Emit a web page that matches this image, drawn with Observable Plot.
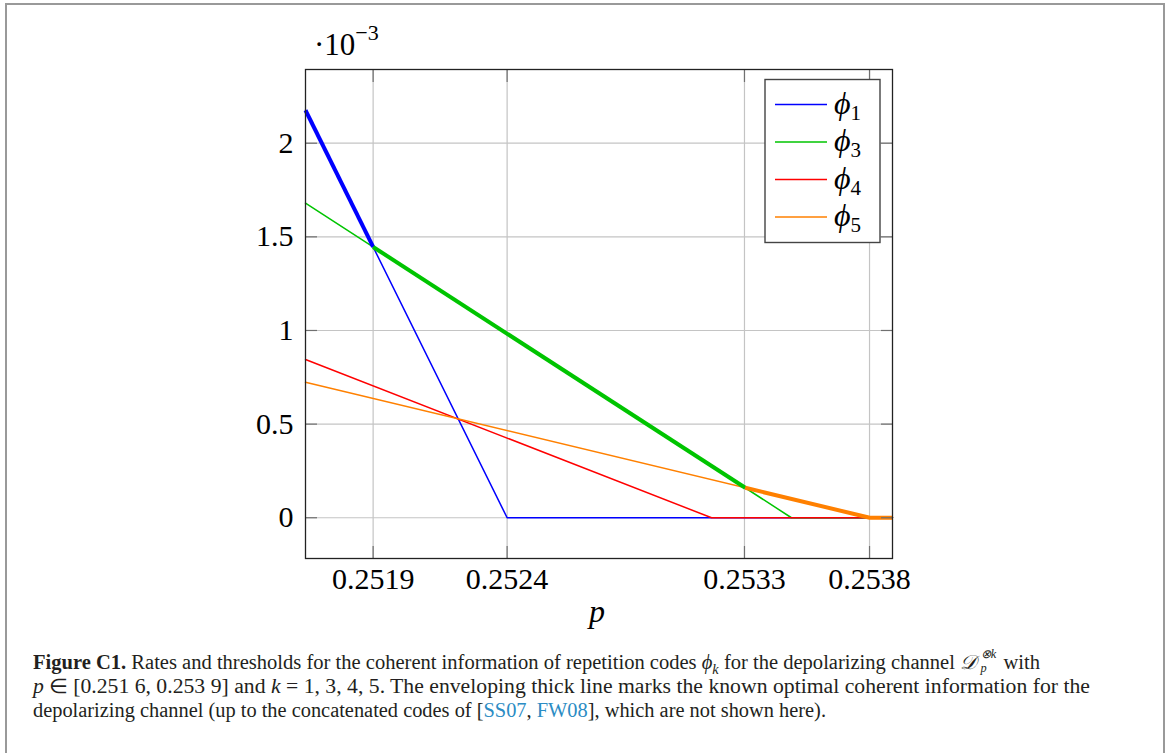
<!DOCTYPE html>
<html><head><meta charset="utf-8">
<script src="https://cdn.jsdelivr.net/npm/d3@7"></script>
<script src="https://cdn.jsdelivr.net/npm/@observablehq/plot@0.6"></script>
<style>
html,body{margin:0;padding:0;background:#fff;}
#page{position:relative;width:1168px;height:753px;overflow:hidden;background:#fff;}
#border{position:absolute;left:5px;top:3px;width:1156px;height:800px;border:2px solid #999;border-bottom:none;}
#chart{position:absolute;left:0;top:0;}
#caption{position:absolute;left:33px;top:650px;font-family:"Liberation Serif",serif;font-size:20px;line-height:24px;color:#231f20;}
.ln{white-space:nowrap;transform-origin:0 50%;height:24px;}
.lk{color:#2b8cc4;}
.m{font-style:italic;}
sub,sup{font-size:70%;line-height:0;}
.stack{display:inline-block;vertical-align:middle;font-size:12px;line-height:14px;font-style:italic;position:relative;top:-3px;margin-left:4px;margin-right:2px;}
.stack span{display:block;}
</style></head><body>
<div id="page"><div id="border"></div><div id="chart"></div>
<div id="caption">
<div class="ln"><b>Figure C1.</b> Rates and thresholds for the coherent information of repetition codes <span class="m">ϕ</span><sub class="m">k</sub> for the depolarizing channel <span class="m">𝒟</span><span class="stack"><span>⊗k</span><span>p</span></span> with</div>
<div class="ln"><span class="m">p</span> ∈ [0.251 6, 0.253 9] and <span class="m">k</span> = 1, 3, 4, 5. The enveloping thick line marks the known optimal coherent information for the</div>
<div class="ln">depolarizing channel (up to the concatenated codes of [<span class="lk">SS07</span>, <span class="lk">FW08</span>], which are not shown here).</div>
</div>
</div>
<script>
const seriesNames = ["ϕ1", "ϕ3", "ϕ4", "ϕ5"];
const seriesSubs = ["1", "3", "4", "5"];
const seriesColors = ["#0000ff", "#00c400", "#ff0000", "#ff8000"];
const phi1P = [0.2516, 0.25239, 0.2539];
const phi1R = [2.176, 0, 0];
const phi3P = [0.2516, 0.253504, 0.2539];
const phi3R = [1.680, 0, 0];
const phi4P = [0.2516, 0.253191, 0.2539];
const phi4R = [0.845, 0, 0];
const phi5P = [0.2516, 0.253811, 0.2539];
const phi5R = [0.724, 0, 0];
const envelopeP = [0.2516, 0.251865, 0.251865, 0.253323, 0.253323, 0.253811, 0.2539];
const envelopeR = [2.176, 1.446, 1.446, 0.160, 0.160, 0, 0];
const envelopeS = ["ϕ1", "ϕ1", "ϕ3", "ϕ3", "ϕ5", "ϕ5", "ϕ5"];
const xTicks = [0.251865, 0.25239, 0.25332, 0.25381];
const xTickLabels = ["0.2519", "0.2524", "0.2533", "0.2538"];
const yTicks = [0, 0.5, 1, 1.5, 2];
const yTickLabels = ["0", "0.5", "1", "1.5", "2"];
const xDomain = [0.2516, 0.2539];
const yDomain = [-0.2176, 2.3936];

const allP = [phi1P, phi3P, phi4P, phi5P];
const allR = [phi1R, phi3R, phi4R, phi5R];
const rows = [];
seriesNames.forEach((s, i) => allP[i].forEach((p, j) => rows.push({s, p, r: allR[i][j]})));
const envRows = envelopeP.map((p, i) => ({s: envelopeS[i], p, r: envelopeR[i], g: i < 2 ? 0 : i < 4 ? 1 : 2}));

const font = "'Liberation Serif', 'DejaVu Serif', serif";
const tickStroke = "#707070";
const chart = Plot.plot({
  width: 1168, height: 640,
  marginLeft: 305, marginRight: 276, marginTop: 69, marginBottom: 82,
  style: {background: "transparent", fontFamily: font, fontSize: "30px", color: "#000"},
  x: {domain: xDomain},
  y: {domain: yDomain},
  color: {domain: seriesNames, range: seriesColors},
  marks: [
    Plot.gridX(xTicks, {stroke: "#c4c4c4", strokeOpacity: 1, strokeWidth: 1.2}),
    Plot.gridY(yTicks, {stroke: "#c4c4c4", strokeOpacity: 1, strokeWidth: 1.2}),
    Plot.line(rows, {x: "p", y: "r", z: "s", stroke: "s", strokeWidth: 1.5}),
    Plot.line(envRows, {x: "p", y: "r", z: "g", stroke: "s", strokeWidth: 4, strokeLinecap: "butt"}),
    Plot.axisX(xTicks, {anchor: "bottom", tickSize: -12, stroke: tickStroke, strokeWidth: 1.2, tickPadding: 21,
      tickFormat: (d, i) => xTickLabels[i], label: null, fontSize: 30, fill: "#000"}),
    Plot.axisX(xTicks, {anchor: "top", tickSize: -12, stroke: tickStroke, strokeWidth: 1.2, tickFormat: () => "", label: null}),
    Plot.axisY(yTicks, {anchor: "left", tickSize: -12, stroke: tickStroke, strokeWidth: 1.2, tickPadding: 24,
      tickFormat: (d, i) => yTickLabels[i], label: null, fontSize: 30, fill: "#000"}),
    Plot.axisY(yTicks, {anchor: "right", tickSize: -12, stroke: tickStroke, strokeWidth: 1.2, tickFormat: () => "", label: null}),
    Plot.frame({stroke: "#222", strokeWidth: 1.3})
  ]
});
document.getElementById("chart").appendChild(chart);

const svg = d3.select(chart);
// axis unit label
const unit = svg.append("text").attr("x", 314).attr("y", 55).attr("text-anchor", "start")
  .attr("font-family", font).attr("font-size", 31).attr("fill", "#000");
unit.append("tspan").text("·10");
unit.append("tspan").attr("font-size", 22).attr("dy", -15).text("−3");
// x label
svg.append("text").attr("x", 597).attr("y", 622).attr("text-anchor", "middle").attr("font-family", font)
  .attr("font-style", "italic").attr("font-size", 32).attr("fill", "#000").text("p");

// legend
const lg = svg.append("g").attr("transform", "translate(765,79.5)");
lg.append("rect").attr("width", 115).attr("height", 163).attr("fill", "#fff").attr("stroke", "#444").attr("stroke-width", 1.4);
seriesNames.forEach((s, i) => {
  const y = 25 + i * 37.5;
  lg.append("line").attr("x1", 10).attr("x2", 62).attr("y1", y).attr("y2", y)
    .attr("stroke", seriesColors[i]).attr("stroke-width", 1.6);
  const t = lg.append("text").attr("x", 69).attr("y", y + 9).attr("text-anchor", "start")
    .attr("font-family", font).attr("font-size", 32).attr("fill", "#000");
  t.append("tspan").attr("font-style", "italic").text("ϕ");
  t.append("tspan").attr("font-size", 21).attr("dy", 6).text(seriesSubs[i]);
});

// fit caption lines to reference widths
const targets = [1007, 1057, 793];
document.querySelectorAll("#caption .ln").forEach((el, i) => {
  el.style.display = "inline-block";
  const w = el.getBoundingClientRect().width;
  el.style.display = "block";
  el.style.width = w + "px";
  el.style.transform = `scaleX(${targets[i] / w})`;
});
</script>
</body></html>
